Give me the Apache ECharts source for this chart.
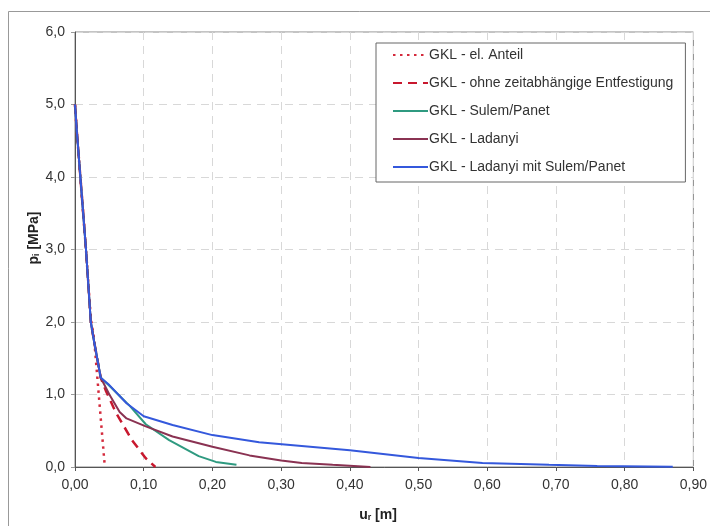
<!DOCTYPE html>
<html>
<head>
<meta charset="utf-8">
<script src="https://cdn.jsdelivr.net/npm/echarts@6/dist/echarts.min.js"></script>
<style>html,body{margin:0;padding:0;background:#fff}#c{width:710px;height:526px}</style>
</head>
<body>
<div id="c"></div>
<script>
// Data (u_r [m], p_i [MPa])
const seriesNames = [
  'GKL - el. Anteil',
  'GKL - ohne zeitabhängige Entfestigung',
  'GKL - Sulem/Panet',
  'GKL - Ladanyi',
  'GKL - Ladanyi mit Sulem/Panet'
];
const elAnteil = [[0,5.0],[0.0025,4.65],[0.016,3.0],[0.023,2.05],[0.028,1.75],[0.035,0.95],[0.043,0.05]];
const ohneEntfestigung = [[0,5.0],[0.0025,4.65],[0.016,3.0],[0.023,2.0],[0.028,1.72],[0.0375,1.23],[0.045,1.05],[0.059,0.76],[0.083,0.37],[0.103,0.12],[0.117,0.0]];
const sulemPanet = [[0,5.0],[0.0025,4.65],[0.016,3.0],[0.023,2.0],[0.028,1.72],[0.0375,1.23],[0.05,1.12],[0.065,0.98],[0.08,0.84],[0.103,0.59],[0.137,0.37],[0.18,0.15],[0.205,0.07],[0.235,0.03]];
const ladanyi = [[0,5.0],[0.0025,4.65],[0.016,3.0],[0.023,2.0],[0.028,1.72],[0.0375,1.23],[0.05,1.0],[0.065,0.76],[0.075,0.67],[0.103,0.56],[0.142,0.42],[0.2,0.28],[0.254,0.16],[0.3,0.09],[0.33,0.055],[0.375,0.03],[0.43,0.0]];
const ladanyiSulem = [[0,5.0],[0.0025,4.65],[0.016,3.0],[0.023,2.0],[0.028,1.72],[0.0375,1.23],[0.05,1.13],[0.075,0.88],[0.1,0.70],[0.142,0.58],[0.2,0.44],[0.268,0.34],[0.4,0.23],[0.5,0.125],[0.593,0.055],[0.69,0.03],[0.76,0.015],[0.87,0.005]];
const xTicks = {min:0, max:0.9, interval:0.1};
const yTicks = {min:0, max:6, interval:1};

const chart = echarts.init(document.getElementById('c'));
const font = 'Arial, "Liberation Sans", sans-serif';
const gridLine = {show:true, lineStyle:{color:'#d8d8d8', type:[8,6], width:1}};
function mk(name, data, color, type, width, cap){
  return {name, type:'line', data, symbol:'none', showSymbol:false, smooth:false,
    lineStyle:{color, type, width, cap: cap || 'butt'}, itemStyle:{color}, z: 3};
}
chart.setOption({
  animation:false,
  backgroundColor:'#fff',
  grid:{left:75, right:16, top:32, bottom:59, show:true, borderColor:'#888', borderWidth:1, backgroundColor:'transparent'},
  xAxis:{type:'value', min:xTicks.min, max:xTicks.max, interval:xTicks.interval,
    axisLine:{show:true, onZero:false, lineStyle:{color:'#555'}},
    axisTick:{show:true, length:4, lineStyle:{color:'#555'}},
    axisLabel:{fontFamily:font, fontSize:14, color:'#333', margin:11,
      formatter:v=>v.toFixed(2).replace('.',',')},
    splitLine:gridLine},
  yAxis:{type:'value', min:yTicks.min, max:yTicks.max, interval:yTicks.interval,
    axisLine:{show:true, lineStyle:{color:'#555'}},
    axisTick:{show:true, length:4, lineStyle:{color:'#999'}},
    axisLabel:{fontFamily:font, fontSize:14, color:'#333', margin:10,
      formatter:v=>v.toFixed(1).replace('.',',')},
    splitLine:gridLine},
  legend:{orient:'vertical', left:376, top:43, itemGap:14, itemWidth:35, itemHeight:14,
    padding:[5,12,8,16], borderColor:'#666', borderWidth:1, backgroundColor:'#fff',
    itemStyle:{opacity:0},
    textStyle:{fontFamily:font, fontSize:14, color:'#333', padding:[0,0,0,-4]},
    data:seriesNames},
  series:[
    mk(seriesNames[0], elAnteil, '#d42a3c', [2.5,4.5], 2.5),
    mk(seriesNames[1], ohneEntfestigung, '#c8182e', [9,6], 2.5),
    mk(seriesNames[2], sulemPanet, '#2f9a80', 'solid', 2),
    mk(seriesNames[3], ladanyi, '#8a3252', 'solid', 2),
    mk(seriesNames[4], ladanyiSulem, '#3458dc', 'solid', 2)
  ],
  graphic:[
    {type:'line', shape:{x1:8.5,y1:11.5,x2:710,y2:11.5}, style:{stroke:'#999', lineWidth:1}},
    {type:'line', shape:{x1:8.5,y1:11.5,x2:8.5,y2:526}, style:{stroke:'#999', lineWidth:1}},
    {type:'text', x:34, y:238, rotation:Math.PI/2,
      style:{text:'{b|p}{s|i}{b| [MPa]}', align:'center', verticalAlign:'middle',
        rich:{b:{fontFamily:font, fontSize:14, fontWeight:'bold', fill:'#222'},
              s:{fontFamily:font, fontSize:9, fontWeight:'bold', fill:'#222', padding:[6,0,0,0]}}}},
    {type:'text', x:378, y:515,
      style:{text:'{b|u}{s|r}{b| [m]}', align:'center', verticalAlign:'middle',
        rich:{b:{fontFamily:font, fontSize:14, fontWeight:'bold', fill:'#222'},
              s:{fontFamily:font, fontSize:9, fontWeight:'bold', fill:'#222', padding:[6,0,0,0]}}}}
  ]
});
</script>
</body>
</html>
